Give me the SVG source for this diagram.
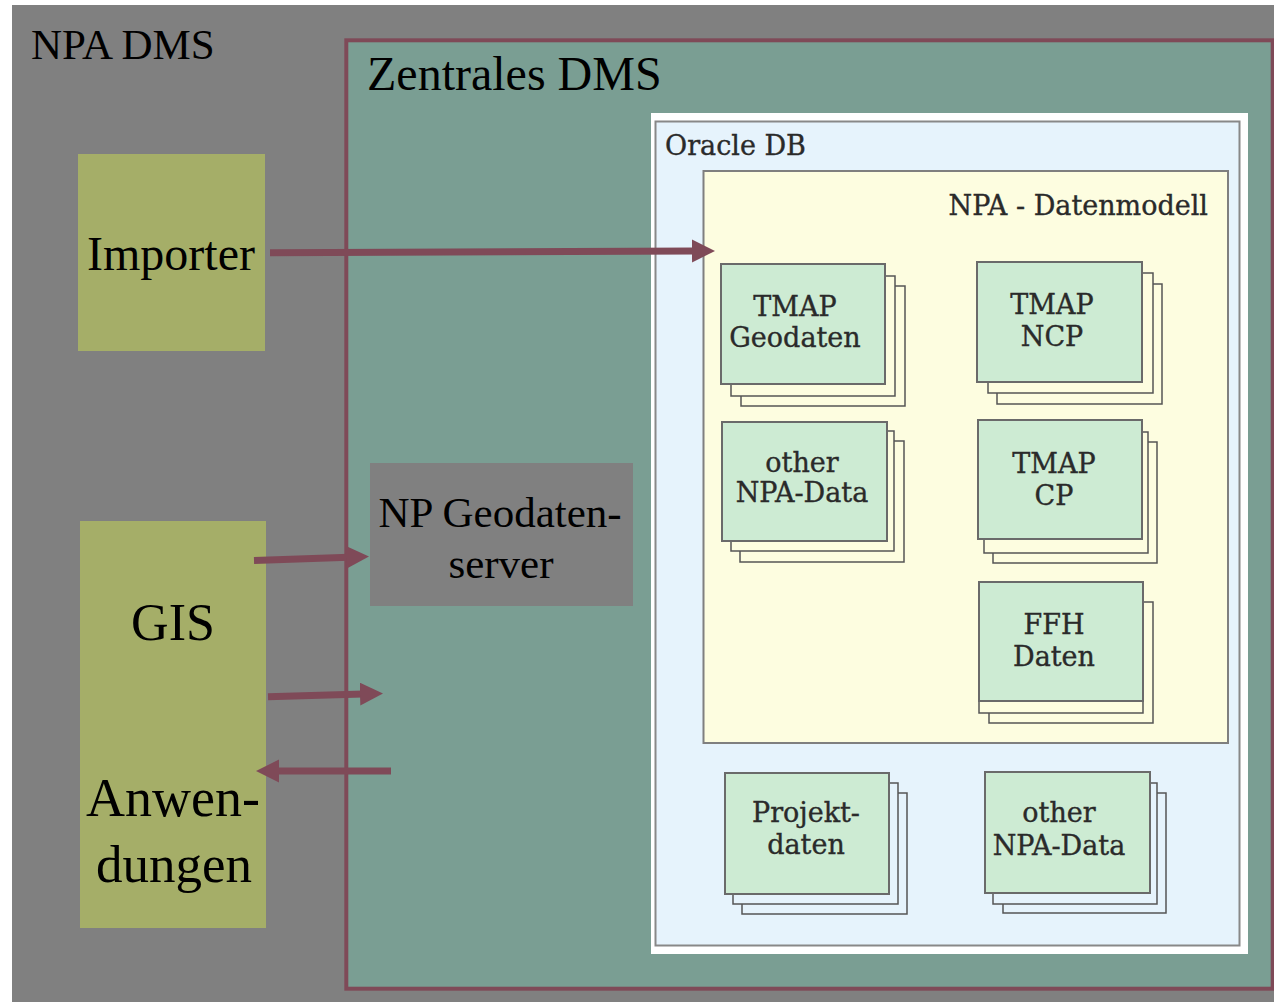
<svg xmlns="http://www.w3.org/2000/svg" width="1274" height="1005" viewBox="0 0 1274 1005">
<defs>
<style>
.big{font-family:"Liberation Serif","Times New Roman",serif;fill:#000;text-anchor:middle}
.sm{font-family:"DejaVu Serif",serif;fill:#2a2a2a;stroke:#2a2a2a;stroke-width:0.35;font-size:27px;text-anchor:middle}
.olive{fill:#a5ae68}
.main{fill:#cdebd3;stroke:#6a6a6a;stroke-width:2}
.by{fill:#fdfde0;stroke:#555;stroke-width:1.5}
.bb{fill:#e6f3fc;stroke:#555;stroke-width:1.5}
.conn{stroke:#7f4a58;stroke-width:7;fill:none;marker-end:url(#ah)}
</style>
<marker id="ah" markerUnits="userSpaceOnUse" markerWidth="24" markerHeight="24" refX="3" refY="11.5" orient="auto">
<path d="M0,0 L23,11.5 L0,23 Z" fill="#7f4a58"/>
</marker>
</defs>
<rect x="0" y="0" width="1274" height="1005" fill="#ffffff"/>
<g id="npa-dms">
<rect x="12" y="5" width="1262" height="997" fill="#808080"/>
<text class="big" x="31" y="58.5" font-size="43" style="text-anchor:start">NPA DMS</text>
</g>
<g id="zentrales-dms">
<rect x="346.3" y="40.3" width="926.4" height="948.4" fill="#7a9e93" stroke="#7f4a58" stroke-width="4"/>
<text class="big" x="367" y="90" font-size="48" style="text-anchor:start">Zentrales DMS</text>
</g>
<g id="importer">
<rect class="olive" x="78" y="154" width="187" height="197"/>
<text class="big" x="171" y="270" font-size="48">Importer</text>
</g>
<g id="gis">
<rect class="olive" x="80" y="521" width="186" height="407"/>
<text class="big" x="173" y="640" font-size="52">GIS</text>
<text class="big" x="173" y="816" font-size="54">Anwen-</text>
<text class="big" x="174" y="882" font-size="53">dungen</text>
</g>
<g id="np-geodatenserver">
<rect x="370" y="463" width="263" height="143" fill="#808080"/>
<text class="big" x="500" y="527" font-size="43">NP Geodaten-</text>
<text class="big" x="501" y="578" font-size="43">server</text>
</g>
<g id="oracle-db">
<rect x="651" y="113" width="597" height="841" fill="#ffffff"/>
<rect x="655.5" y="121.5" width="584" height="824" fill="#e6f3fc" stroke="#888" stroke-width="2"/>
<text class="sm" x="665" y="155" style="text-anchor:start">Oracle DB</text>
</g>
<g id="npa-datenmodell">
<rect x="703.5" y="171" width="524.5" height="572" fill="#fdfde0" stroke="#7f7f7f" stroke-width="2"/>
<text class="sm" x="1208" y="215" style="text-anchor:end">NPA - Datenmodell</text>
</g>
<g id="tmap-geodaten">
<rect class="by" x="741" y="286" width="164" height="120"/>
<rect class="by" x="731" y="276" width="164" height="120"/>
<rect class="main" x="721" y="264" width="164" height="120"/>
<text class="sm" x="795" y="316">TMAP</text>
<text class="sm" x="795" y="347">Geodaten</text>
</g>
<g id="tmap-ncp">
<rect class="by" x="997" y="284" width="165" height="120"/>
<rect class="by" x="988" y="273" width="165" height="120"/>
<rect class="main" x="977" y="262" width="165" height="120"/>
<text class="sm" x="1052" y="314">TMAP</text>
<text class="sm" x="1052" y="346">NCP</text>
</g>
<g id="other-npa-data-1">
<rect class="by" x="740" y="441" width="164" height="121"/>
<rect class="by" x="731" y="431" width="163" height="120"/>
<rect class="main" x="722" y="422" width="165" height="119"/>
<text class="sm" x="802" y="472">other</text>
<text class="sm" x="802" y="502">NPA-Data</text>
</g>
<g id="tmap-cp">
<rect class="by" x="993" y="442" width="164" height="121"/>
<rect class="by" x="984" y="432" width="164" height="121"/>
<rect class="main" x="978" y="420" width="164" height="119"/>
<text class="sm" x="1054" y="473">TMAP</text>
<text class="sm" x="1054" y="505">CP</text>
</g>
<g id="ffh-daten">
<rect class="by" x="989" y="602" width="164" height="121"/>
<rect class="by" x="979" y="593" width="164" height="120"/>
<rect class="main" x="979" y="582" width="164" height="119"/>
<text class="sm" x="1054" y="634">FFH</text>
<text class="sm" x="1054" y="666">Daten</text>
</g>
<g id="projektdaten">
<rect class="bb" x="742" y="793" width="165" height="121"/>
<rect class="bb" x="733" y="783" width="165" height="121"/>
<rect class="main" x="725" y="773" width="164" height="121"/>
<text class="sm" x="806" y="822">Projekt-</text>
<text class="sm" x="806" y="854">daten</text>
</g>
<g id="other-npa-data-2">
<rect class="bb" x="1003" y="793" width="163" height="120"/>
<rect class="bb" x="993" y="783" width="164" height="121"/>
<rect class="main" x="985" y="772" width="165" height="121"/>
<text class="sm" x="1059" y="822">other</text>
<text class="sm" x="1059" y="855">NPA-Data</text>
</g>
<g id="connectors">
<line class="conn" x1="270" y1="252.7" x2="695" y2="251"/>
<line class="conn" x1="254" y1="560.5" x2="349" y2="557.2"/>
<line class="conn" x1="268" y1="696.8" x2="363" y2="694"/>
<line class="conn" x1="391" y1="771" x2="276" y2="771"/>
</g>
</svg>
